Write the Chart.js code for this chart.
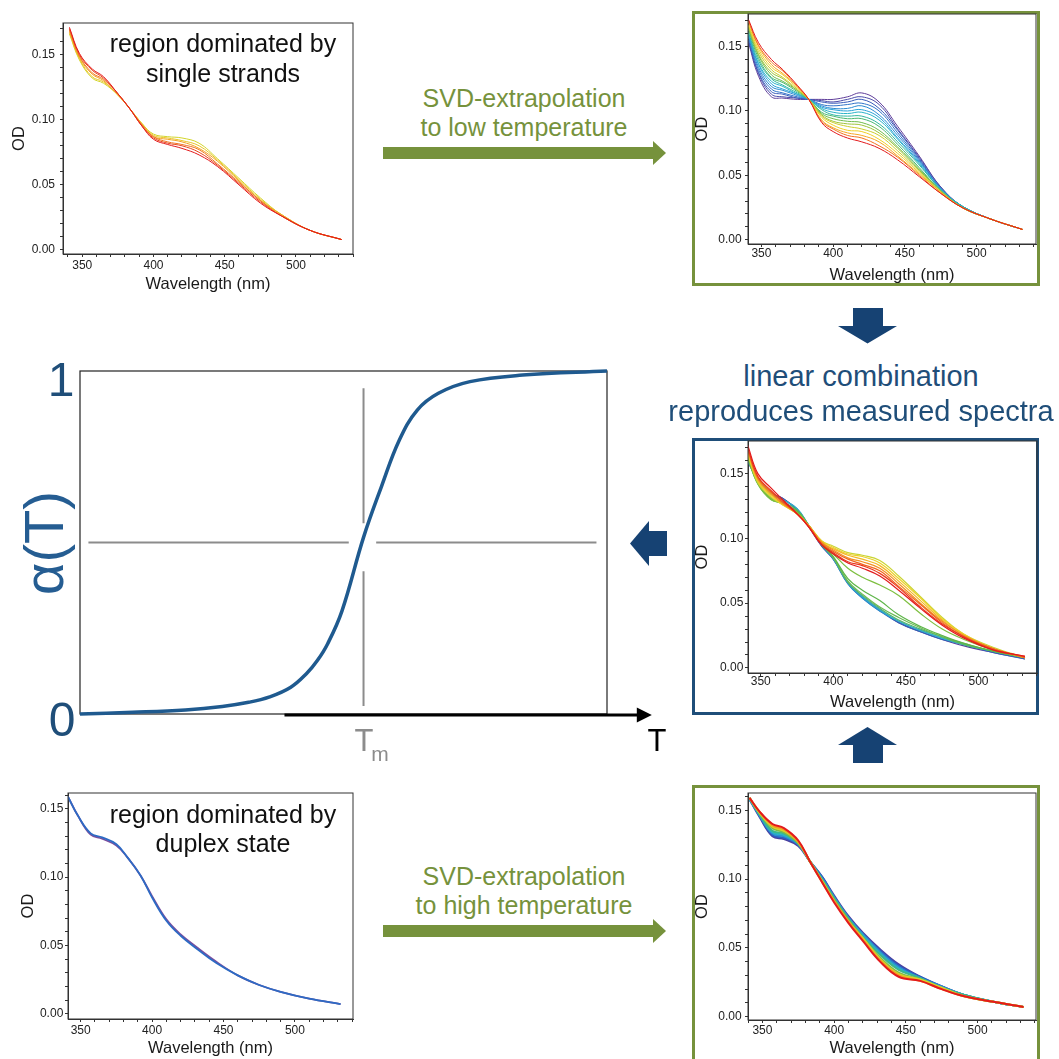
<!DOCTYPE html>
<html>
<head>
<meta charset="utf-8">
<title>SVD extrapolation of melting spectra</title>
<script src="https://cdn.jsdelivr.net/npm/chart.js@4.4.1/dist/chart.umd.min.js"></script>
<style>
  html, body { margin: 0; padding: 0; background: #fff; }
  #page { position: relative; width: 1059px; height: 1059px; overflow: hidden;
          font-family: "Liberation Sans", Arial, Helvetica, sans-serif; }
  #page canvas { position: absolute; }
  .frame { position: absolute; box-sizing: border-box; }
  .lbl { position: absolute; white-space: nowrap; line-height: 1; transform: translate(-50%, -50%); }
  svg { position: absolute; left: 0; top: 0; }
</style>
</head>
<body>
<div id="page">
  <div class="frame" style="left:692px;top:11px;width:348px;height:275px;border:3px solid #76923c"></div>
  <div class="frame" style="left:692px;top:438px;width:347px;height:277px;border:3px solid #1f4e79"></div>
  <div class="frame" style="left:692px;top:785px;width:348px;height:300px;border:3px solid #76923c"></div>

  <svg width="1059" height="1059">
    <g fill="#76923c">
      <rect x="383" y="147" width="271" height="12"/>
      <polygon points="653,141 666,153 653,165"/>
      <rect x="383" y="925" width="271" height="12"/>
      <polygon points="653,919 666,931 653,943"/>
    </g>
    <g fill="#164273">
      <rect x="853" y="308" width="30" height="19"/>
      <polygon points="838,326 897,326 867.5,343.5"/>
      <rect x="853" y="744" width="30" height="19"/>
      <polygon points="838,745 897,745 867.5,727"/>
      <rect x="648" y="531" width="19" height="25"/>
      <polygon points="649,521 649,566 630,543.5"/>
    </g>
  </svg>

  <canvas id="cSingle" width="362" height="300" style="left:0px;top:0px"></canvas>
  <canvas id="cLowT" width="355" height="290" style="left:690px;top:0px"></canvas>
  <canvas id="cMeasured" width="355" height="290" style="left:690px;top:430px"></canvas>
  <canvas id="cDuplex" width="362" height="279" style="left:0px;top:780px"></canvas>
  <canvas id="cHighT" width="355" height="279" style="left:690px;top:780px"></canvas>
  <canvas id="cMelt" width="680" height="430" style="left:0px;top:340px"></canvas>

  <div class="lbl" style="left:223px;top:43px;font-size:25px;color:#111">region dominated by</div>
  <div class="lbl" style="left:223px;top:73px;font-size:25px;color:#111">single strands</div>
  <div class="lbl" style="left:223px;top:814px;font-size:25px;color:#111">region dominated by</div>
  <div class="lbl" style="left:223px;top:843px;font-size:25px;color:#111">duplex state</div>

  <div class="lbl" style="left:524px;top:98px;font-size:25px;color:#76923c">SVD-extrapolation</div>
  <div class="lbl" style="left:524px;top:127px;font-size:25px;color:#76923c">to low temperature</div>
  <div class="lbl" style="left:524px;top:876px;font-size:25px;color:#76923c">SVD-extrapolation</div>
  <div class="lbl" style="left:524px;top:905px;font-size:25px;color:#76923c">to high temperature</div>

  <div class="lbl" style="left:861px;top:376px;font-size:29px;color:#1f4e79">linear combination</div>
  <div class="lbl" style="left:861px;top:411px;font-size:29px;color:#1f4e79">reproduces measured spectra</div>

  <div class="lbl" style="left:61px;top:380px;font-size:48px;color:#1f4e79">1</div>
  <div class="lbl" style="left:62px;top:720px;font-size:48px;color:#1f4e79">0</div>
  <div class="lbl" style="left:44px;top:543px;font-size:56px;color:#255d92;transform:translate(-50%,-50%) rotate(-90deg)">α(T)</div>
  <div class="lbl" style="left:657px;top:740px;font-size:31px;color:#000">T</div>
  <div class="lbl" style="left:364px;top:740px;font-size:31px;color:#8c8c8c">T</div>
  <div class="lbl" style="left:380px;top:753px;font-size:21px;color:#8c8c8c">m</div>
</div>

<script>
// wavelength grid (nm) shared by all spectra
const WAVELENGTH = [341, 348, 357, 365, 375, 383, 392, 400, 410, 420, 432, 445, 460, 475, 490, 510, 532];

// top left: measured spectra, high temperature end (yellow -> red)
const SINGLE_STRAND_OD = [
  [.166, .146, .132, .128, .119, .109, .097, .089, .087, .086, .082, .070, .055, .040, .027, .015, .008],
  [.167, .147, .133, .129, .119, .109, .097, .088, .086, .084, .080, .069, .054, .039, .027, .015, .008],
  [.168, .148, .135, .130, .119, .109, .096, .087, .085, .083, .078, .068, .053, .038, .027, .015, .008],
  [.169, .149, .136, .131, .120, .109, .096, .087, .083, .081, .077, .066, .052, .038, .026, .015, .008],
  [.170, .150, .138, .132, .120, .109, .095, .086, .082, .080, .075, .065, .051, .037, .026, .015, .008],
  [.171, .151, .139, .133, .120, .109, .095, .085, .081, .078, .073, .064, .050, .036, .026, .015, .008]
];
const SINGLE_STRAND_COLORS = ['#d2d52a', '#eac626', '#f2a223', '#ef7520', '#e9461e', '#e31a1c'];

// top right: SVD extrapolation to low temperature (purple -> red)
const LOW_T_OD = [
  [.153, .127, .111, .110, .109, .109, .109, .109, .111, .114, .107, .088, .065, .041, .026, .016, .008],
  [.154, .129, .113, .111, .110, .109, .108, .107, .109, .111, .105, .086, .064, .041, .026, .016, .008],
  [.155, .130, .115, .113, .110, .109, .107, .106, .107, .109, .102, .085, .063, .040, .026, .016, .008],
  [.157, .132, .117, .114, .111, .109, .105, .104, .105, .106, .100, .083, .062, .040, .026, .016, .008],
  [.158, .134, .119, .116, .112, .109, .104, .102, .102, .104, .097, .081, .061, .040, .026, .016, .008],
  [.159, .136, .121, .117, .113, .109, .103, .101, .100, .101, .095, .079, .060, .039, .026, .016, .008],
  [.160, .137, .123, .119, .113, .109, .102, .099, .098, .099, .093, .078, .059, .039, .026, .016, .008],
  [.161, .139, .125, .120, .114, .109, .101, .097, .096, .096, .090, .076, .058, .039, .026, .016, .008],
  [.163, .141, .126, .122, .115, .109, .099, .096, .094, .094, .088, .074, .056, .038, .025, .016, .008],
  [.164, .143, .128, .123, .116, .109, .098, .094, .092, .091, .085, .072, .055, .038, .025, .016, .008],
  [.165, .144, .130, .125, .116, .109, .097, .092, .090, .089, .083, .071, .054, .038, .025, .016, .008],
  [.166, .146, .132, .126, .117, .109, .096, .091, .088, .086, .081, .069, .053, .037, .025, .016, .008],
  [.167, .148, .134, .128, .118, .109, .095, .089, .085, .084, .078, .067, .052, .037, .025, .016, .008],
  [.169, .150, .136, .129, .119, .109, .093, .087, .083, .081, .076, .065, .051, .037, .025, .016, .008],
  [.170, .151, .138, .131, .119, .109, .092, .086, .081, .079, .073, .064, .050, .036, .025, .016, .008],
  [.171, .153, .140, .132, .120, .109, .091, .084, .079, .076, .071, .062, .049, .036, .025, .016, .008]
];
const LOW_T_COLORS = ['#5e3c99', '#4a4aa8', '#3a5cba', '#2f73c8', '#2a8ad2', '#29a2d8', '#2bb3c9', '#33b7a0',
                      '#4bb873', '#71bc4b', '#9fc43a', '#cccd2e', '#f0d024', '#f5a623', '#f2711f', '#e31a1c'];

// middle right: measured spectra reproduced by the linear combination
const MEASURED_OD = [
  [.159, .147, .135, .131, .122, .109, .094, .084, .066, .055, .045, .035, .028, .022, .017, .012, .007],
  [.159, .146, .135, .131, .122, .110, .094, .084, .065, .054, .044, .035, .028, .022, .018, .012, .007],
  [.160, .146, .135, .130, .123, .110, .095, .084, .065, .054, .044, .036, .029, .023, .018, .013, .008],
  [.160, .145, .134, .130, .123, .110, .095, .085, .066, .055, .045, .036, .029, .023, .018, .013, .008],
  [.161, .143, .131, .128, .122, .110, .095, .085, .066, .056, .046, .037, .030, .024, .018, .013, .008],
  [.162, .143, .131, .127, .121, .110, .096, .085, .067, .057, .047, .039, .031, .024, .019, .013, .008],
  [.162, .142, .130, .127, .121, .110, .096, .086, .069, .060, .052, .041, .032, .025, .019, .013, .008],
  [.163, .142, .130, .127, .120, .110, .097, .088, .077, .070, .064, .056, .042, .030, .022, .014, .008],
  [.165, .143, .132, .126, .119, .110, .098, .094, .089, .087, .083, .071, .055, .039, .026, .016, .008],
  [.166, .144, .133, .126, .119, .110, .098, .093, .088, .086, .081, .069, .054, .038, .026, .015, .008],
  [.167, .145, .134, .127, .119, .110, .097, .092, .087, .084, .079, .067, .052, .037, .025, .015, .008],
  [.168, .146, .135, .127, .119, .110, .097, .091, .085, .082, .077, .065, .050, .036, .025, .015, .008],
  [.169, .147, .136, .128, .119, .109, .096, .090, .084, .080, .075, .063, .049, .035, .024, .015, .008],
  [.170, .148, .137, .129, .119, .109, .095, .089, .082, .079, .073, .062, .047, .034, .024, .014, .009],
  [.172, .150, .139, .130, .119, .109, .095, .088, .081, .077, .071, .060, .046, .033, .023, .014, .009]
];
const MEASURED_COLORS = ['#5a3f9a', '#3461b8', '#2c90d0', '#2fb0c8', '#54b36a', '#6cbc55', '#5db548', '#7dbf3f',
                         '#c9d433', '#ecd22a', '#f3b726', '#f39022', '#f0641f', '#ea3a1e', '#e31a1c'];

// bottom left: measured spectra, low temperature end
const DUPLEX_OD = [
  [.159, .145, .131, .128, .123, .114, .101, .086, .069, .058, .048, .038, .028, .021, .016, .011, .007],
  [.159, .145, .132, .129, .124, .114, .101, .085, .068, .057, .047, .037, .028, .021, .016, .011, .007]
];
const DUPLEX_COLORS = ['#7b4d9e', '#2d6bc4'];

// bottom right: SVD extrapolation to high temperature (blue -> red)
const HIGH_T_OD = [
  [.158, .145, .131, .129, .124, .113, .101, .088, .073, .061, .049, .038, .029, .022, .016, .011, .007],
  [.158, .146, .132, .130, .125, .113, .101, .087, .072, .060, .048, .037, .029, .022, .016, .011, .007],
  [.158, .146, .133, .131, .125, .113, .100, .087, .072, .060, .047, .036, .028, .022, .016, .011, .007],
  [.158, .147, .134, .132, .126, .113, .099, .086, .071, .059, .046, .035, .028, .021, .016, .011, .007],
  [.159, .147, .135, .133, .126, .113, .099, .086, .071, .058, .045, .034, .028, .021, .016, .011, .007],
  [.159, .148, .137, .134, .126, .113, .098, .085, .070, .057, .043, .032, .027, .021, .015, .011, .007],
  [.159, .148, .138, .135, .127, .113, .098, .084, .069, .057, .042, .031, .027, .021, .015, .011, .007],
  [.159, .149, .139, .136, .127, .113, .097, .084, .069, .056, .041, .030, .026, .020, .015, .011, .007],
  [.159, .149, .140, .137, .128, .113, .097, .083, .068, .055, .040, .029, .026, .020, .015, .011, .007]
];
const HIGH_T_COLORS = ['#4b3fa0', '#2d5fc0', '#2a8ed2', '#2ab3c8', '#3cb88a', '#7cbd45', '#d9d12a', '#f59a22', '#e31a1c'];

// melting curve alpha(T), T in arbitrary units 0..100
const MELT_T = [0, 10, 20, 27, 32, 36, 40, 43, 45, 47, 49.7, 53.8, 57.2, 60.6, 64, 68, 74, 84, 100];
const MELT_ALPHA = [0, 0.005, 0.012, 0.022, 0.034, 0.050, 0.078, 0.118, 0.155, 0.205, 0.300, 0.515, 0.663, 0.799, 0.886, 0.935, 0.969, 0.988, 1.0];
const TM = 53.8;
const GUIDE_H_LEFT = [1.6, 51.0];
const GUIDE_H_RIGHT = [56.2, 98.0];
const GUIDE_V_UPPER = [0.95, 0.556];
const GUIDE_V_LOWER = [0.416, 0.023];
const T_AXIS = [38.8, 108.5];

Chart.defaults.font.family = '"Liberation Sans", Arial, Helvetica, sans-serif';
Chart.defaults.color = '#222';

// page layout of each spectrum panel: plot box [l, t, r, b], axis ranges, label offsets
const PANELS = {
  cSingle:   { plot: [63, 23, 353, 254],   x: [336.5, 540.0],  y: [-0.0031, 0.1743], xTitle: 284,  yTitle: 19,    xPad: 1,    yPad: 5 },
  cLowT:     { plot: [748, 14, 1036, 244], x: [340.65, 541.4], y: [-0.0033, 0.1753], xTitle: 275,  yTitle: 702.5, xPad: -1,   yPad: 3.3 },
  cMeasured: { plot: [748, 441, 1037, 673], x: [341.2, 540.3], y: [-0.0039, 0.1752], xTitle: 702,  yTitle: 702.5, xPad: -1.5, yPad: 1.7 },
  cDuplex:   { plot: [68, 793, 353, 1019], x: [341.1, 540.7],  y: [-0.0039, 0.1615], xTitle: 1048, yTitle: 28,    xPad: 1,    yPad: 1.7 },
  cHighT:    { plot: [748, 793, 1036, 1020], x: [339.95, 540.7], y: [-0.0024, 0.1625], xTitle: 1048, yTitle: 702.5, xPad: 0, yPad: 3.3 }
};

/** Strokes the full plot rectangle so the box is closed on top and right. */
const frameBox = {
  id: 'frameBox',
  afterDatasetsDraw(chart, args, opts) {
    const {ctx, chartArea: a} = chart;
    ctx.save();
    ctx.strokeStyle = opts.color || '#333';
    ctx.lineWidth = opts.width || 1;
    ctx.strokeRect(a.left, a.top, a.right - a.left, a.bottom - a.top);
    ctx.restore();
  }
};

/**
 * Draws one panel of absorbance spectra.
 */
function spectrumChart(id, od, colors, lineWidth) {
  const cv = document.getElementById(id);
  const p = PANELS[id];
  const W = cv.width, H = cv.height;
  const left = parseFloat(cv.style.left), top = parseFloat(cv.style.top);
  const lh = 16.5 * 1.2;
  return new Chart(cv, {
    type: 'line',
    data: {
      datasets: od.map((vals, i) => ({
        data: WAVELENGTH.map((w, j) => ({x: w, y: vals[j]})),
        borderColor: colors[i],
        borderWidth: lineWidth,
        pointRadius: 0,
        tension: 0.4,
        order: od.length - i
      }))
    },
    options: {
      responsive: false,
      animation: false,
      events: [],
      devicePixelRatio: 1,
      layout: {padding: {left: 0, top: p.plot[1] - top, right: left + W - p.plot[2], bottom: 0}},
      plugins: {legend: {display: false}, tooltip: {enabled: false}, frameBox: {color: '#333', width: 1}},
      scales: {
        x: {
          type: 'linear', min: p.x[0], max: p.x[1],
          afterFit: s => { s.height = top + H - p.plot[3]; },
          ticks: {
            stepSize: 10, includeBounds: false, autoSkip: false, maxRotation: 0, padding: p.xPad,
            font: {size: 12}, color: '#222',
            callback: v => (v % 50 === 0 ? String(v) : '')
          },
          grid: {drawOnChartArea: false, tickLength: 3, color: '#333'},
          border: {color: '#333'},
          title: {display: true, text: 'Wavelength (nm)', font: {size: 16.5}, color: '#1a1a1a',
                  padding: {top: 0, bottom: top + H - p.xTitle - lh / 2}}
        },
        y: {
          type: 'linear', min: p.y[0], max: p.y[1],
          afterFit: s => { s.width = p.plot[0] - left; },
          ticks: {
            stepSize: 0.01, includeBounds: false, autoSkip: false, padding: p.yPad,
            font: {size: 12}, color: '#222',
            callback: v => {
              const k = Math.round(v * 100);
              return (Math.abs(v * 100 - k) < 1e-6 && k % 5 === 0) ? (k / 100).toFixed(2) : '';
            }
          },
          grid: {drawOnChartArea: false, tickLength: 3, color: '#333'},
          border: {color: '#333'},
          title: {display: true, text: 'OD', font: {size: 16.5}, color: '#1a1a1a',
                  padding: {top: p.yTitle - left - lh / 2, bottom: 0}}
        }
      }
    },
    plugins: [frameBox]
  });
}

/** Box and black temperature axis arrow of the melting curve. */
const meltAxes = {
  id: 'meltAxes',
  beforeDatasetsDraw(chart) {
    const {ctx, chartArea: a, scales: {x, y}} = chart;
    ctx.save();
    ctx.strokeStyle = '#222';
    ctx.lineWidth = 1.2;
    ctx.strokeRect(a.left, a.top, a.right - a.left, a.bottom - a.top);
    const y0 = y.getPixelForValue(0) + 1;
    const x0 = x.getPixelForValue(T_AXIS[0]);
    const x1 = x.getPixelForValue(T_AXIS[1]);
    ctx.strokeStyle = '#000';
    ctx.lineWidth = 3;
    ctx.beginPath();
    ctx.moveTo(x0, y0);
    ctx.lineTo(x1 - 12, y0);
    ctx.stroke();
    ctx.fillStyle = '#000';
    ctx.beginPath();
    ctx.moveTo(x1, y0);
    ctx.lineTo(x1 - 15, y0 - 7.5);
    ctx.lineTo(x1 - 15, y0 + 7.5);
    ctx.closePath();
    ctx.fill();
    ctx.restore();
  }
};

function meltChart() {
  const guide = (pts) => ({
    data: pts, borderColor: '#8c8c8c', borderWidth: 2, pointRadius: 0, order: 2
  });
  new Chart(document.getElementById('cMelt'), {
    type: 'line',
    data: {
      datasets: [
        {
          data: MELT_T.map((t, i) => ({x: t, y: MELT_ALPHA[i]})),
          borderColor: '#1f5a8f', borderWidth: 3.5, pointRadius: 0,
          tension: 0.4, clip: false, order: 1
        },
        guide(GUIDE_H_LEFT.map(t => ({x: t, y: 0.5}))),
        guide(GUIDE_H_RIGHT.map(t => ({x: t, y: 0.5}))),
        guide(GUIDE_V_UPPER.map(a => ({x: TM, y: a}))),
        guide(GUIDE_V_LOWER.map(a => ({x: TM, y: a})))
      ]
    },
    options: {
      responsive: false,
      animation: false,
      events: [],
      devicePixelRatio: 1,
      layout: {padding: {left: 80, top: 31, right: 73, bottom: 56}},
      plugins: {legend: {display: false}, tooltip: {enabled: false}},
      scales: {
        x: {type: 'linear', display: false, min: 0, max: 100},
        y: {type: 'linear', display: false, min: 0, max: 1}
      }
    },
    plugins: [meltAxes]
  });
}

function main() {
  spectrumChart('cSingle', SINGLE_STRAND_OD, SINGLE_STRAND_COLORS, 1);
  spectrumChart('cLowT', LOW_T_OD, LOW_T_COLORS, 1);
  spectrumChart('cMeasured', MEASURED_OD, MEASURED_COLORS, 1.2);
  spectrumChart('cDuplex', DUPLEX_OD, DUPLEX_COLORS, 1.8);
  spectrumChart('cHighT', HIGH_T_OD, HIGH_T_COLORS, 2);
  meltChart();
}

main();
</script>
</body>
</html>
